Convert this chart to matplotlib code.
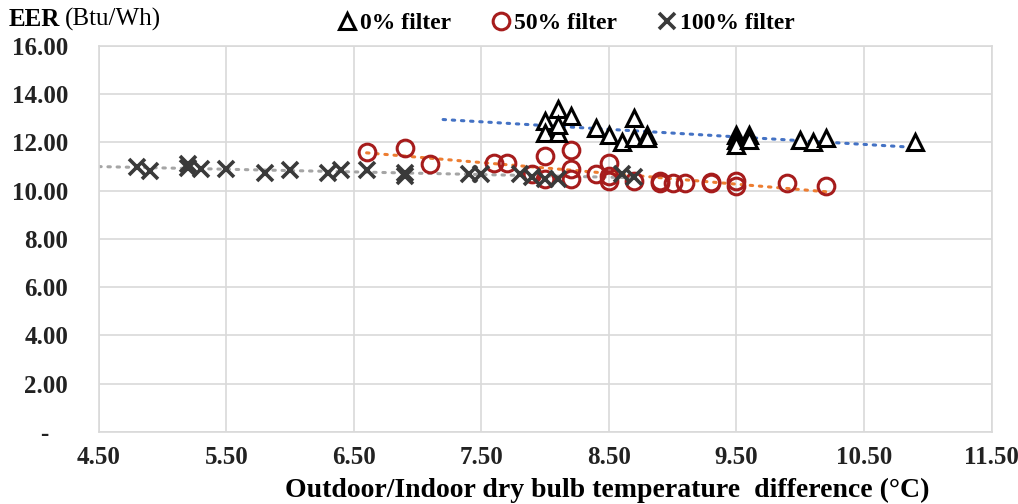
import matplotlib
matplotlib.use("Agg")
import matplotlib.pyplot as plt
import numpy as np

# 0% filter (triangles)
f0_x = [8.0, 8.1, 8.2, 8.0, 8.1, 8.1, 8.4, 8.5, 8.6, 8.7, 8.7, 8.8, 8.8,
        9.5, 9.5, 9.5, 9.6, 9.6, 10.0, 10.1, 10.2, 10.9]
f0_y = [12.9, 13.4, 13.1, 12.4, 12.4, 12.7, 12.6, 12.3, 12.0, 13.0, 12.2, 12.3, 12.2,
        12.3, 12.1, 11.9, 12.3, 12.1, 12.1, 12.0, 12.2, 12.0]

# 50% filter (circles)
f50_x = [6.6, 6.9, 7.1, 7.6, 7.7, 7.9, 8.0, 8.0, 8.2, 8.2, 8.2, 8.4, 8.5, 8.5, 8.5,
         8.7, 8.9, 8.9, 9.0, 9.1, 9.3, 9.3, 9.5, 9.5, 9.9, 10.2]
f50_y = [11.6, 11.75, 11.1, 11.15, 11.15, 10.7, 11.45, 10.5, 11.7, 10.9, 10.5, 10.7, 11.15, 10.6, 10.4,
         10.4, 10.4, 10.3, 10.3, 10.3, 10.35, 10.3, 10.4, 10.2, 10.3, 10.2]

# 100% filter (crosses)
f100_x = [4.8, 4.9, 5.2, 5.2, 5.3, 5.5, 5.8, 6.0, 6.3, 6.4, 6.6, 6.9, 6.9,
          7.4, 7.5, 7.8, 7.9, 8.0, 8.1, 8.6, 8.7]
f100_y = [11.0, 10.8, 11.1, 10.95, 10.9, 10.9, 10.75, 10.85, 10.75, 10.85, 10.85, 10.6, 10.75,
          10.7, 10.7, 10.7, 10.55, 10.5, 10.5, 10.7, 10.55]

# trendline extents (x)
trend0_range = [7.2, 10.9]
trend50_range = [6.6, 10.2]
trend100_range = [4.5, 8.7]

x_ticks = [4.5, 5.5, 6.5, 7.5, 8.5, 9.5, 10.5, 11.5]
y_ticks = [0, 2, 4, 6, 8, 10, 12, 14, 16]

SERIF = ["Liberation Serif", "DejaVu Serif"]
plt.rcParams["font.family"] = SERIF

fig = plt.figure(figsize=(10.18, 5.04), dpi=100)
ax = fig.add_axes([0.097, 0.143, 0.877, 0.766])


def trend(xs, ys, rng, color):
    k, b = np.polyfit(xs, ys, 1)
    tx = np.array(rng)
    ax.plot(tx, k * tx + b, color=color, lw=2.2, linestyle=(0, (0.8, 2.2)),
            dash_capstyle="round", zorder=2)


trend(f0_x, f0_y, trend0_range, "#4472C4")
trend(f50_x, f50_y, trend50_range, "#ED7D31")
trend(f100_x, f100_y, trend100_range, "#A5A5A5")

h0, = ax.plot(f0_x, f0_y, linestyle="none", marker="^", ms=11, mfc="white",
              mec="black", mew=2.2, zorder=4, label="0% filter")
h50, = ax.plot(f50_x, f50_y, linestyle="none", marker="o", ms=12, mfc="none",
               mec="#A61C1C", mew=2.2, zorder=3, label="50% filter")
h100, = ax.plot(f100_x, f100_y, linestyle="none", marker="x", ms=11,
                mec="#3A3A3A", mew=2.6, zorder=3, label="100% filter")

ax.set_xlim(4.5, 11.5)
ax.set_ylim(0, 16)
ax.set_xticks(x_ticks)
ax.set_xticklabels([f"{v:.2f}" for v in x_ticks])
ax.set_yticks(y_ticks)
ax.set_yticklabels(["-   "] + [f"{v:.2f}" for v in y_ticks[1:]])
ax.tick_params(axis="both", length=0, labelsize=18, colors="#222222")
ax.tick_params(axis="x", pad=10)
ax.tick_params(axis="y", pad=22)
for lab in ax.get_xticklabels() + ax.get_yticklabels():
    lab.set_fontweight("bold")

ax.grid(True, color="#D9D9D9", lw=1.2)
ax.set_axisbelow(True)
for s in ax.spines.values():
    s.set_color("#D9D9D9")
    s.set_linewidth(1.2)

fig.legend(handles=[h0, h50, h100], loc="center", bbox_to_anchor=(0.555, 0.953),
           ncol=3, frameon=False, handletextpad=0.05, columnspacing=1.6,
           handlelength=1.0, prop={"family": SERIF, "weight": "bold", "size": 17})

fig.text(0.008, 0.962, "EER", fontsize=18, fontweight="bold", va="center", ha="left")
fig.text(0.064, 0.962, "(Btu/Wh)", fontsize=18, va="center", ha="left")
fig.text(0.597, 0.027, "Outdoor/Indoor dry bulb temperature  difference (\u00b0C)",
         fontsize=20, fontweight="bold", ha="center", va="center")

fig.savefig("out.png", dpi=100)
